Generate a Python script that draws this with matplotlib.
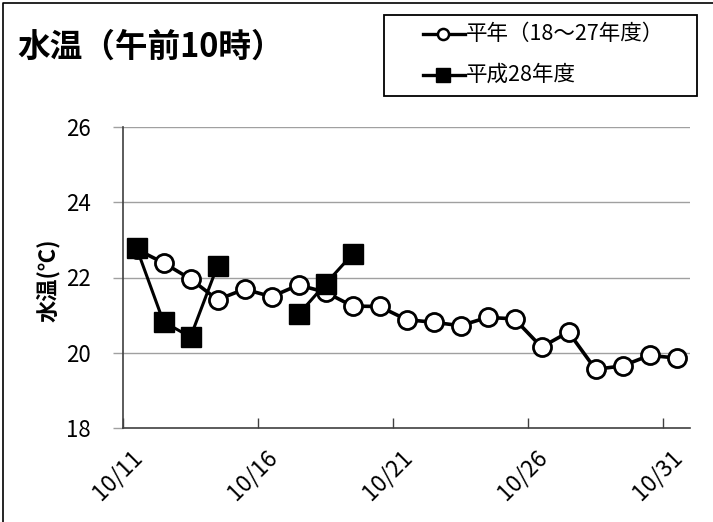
import matplotlib
matplotlib.use('Agg')
from matplotlib import pyplot as plt
from matplotlib.lines import Line2D
from matplotlib.patches import Rectangle
import matplotlib.transforms as mtransforms
import numpy as np

plt.rcParams['font.family'] = ['Noto Sans CJK JP', 'DejaVu Sans']

W, H = 713, 522

# days 10/11 .. 10/31
days = ['10/%d' % d for d in range(11, 32)]
tick_labels = ['10/11', '10/16', '10/21', '10/26', '10/31']

# 平年 (18~27年度)
normal = [22.75, 22.39, 21.96, 21.41, 21.69, 21.49, 21.80, 21.61, 21.24, 21.23,
          20.88, 20.81, 20.72, 20.94, 20.90, 20.15, 20.55, 19.56, 19.65, 19.93,
          19.86]
# 平成28年度 (nan = no observation)
h28 = [22.79, 20.82, 20.42, 22.31, np.nan, np.nan, 21.02, 21.83, 22.62]

legend_labels = ['平年（18～27年度）', '平成28年度']

def fx(px):
    return px / W

def fy(py):
    return 1 - py / H

def main():
    fig = plt.figure(figsize=(W / 100, H / 100), dpi=100)
    ax = fig.add_axes([fx(123), fy(428), fx(690) - fx(123), fy(127) - fy(428)])

    x = np.arange(len(days))
    ax.plot(x, normal, color='black', lw=2.6, marker='o', ms=13,
            mfc='white', mec='black', mew=2.0, zorder=3)
    x28 = np.arange(len(h28))
    ax.plot(x28, h28, color='black', lw=2.2, marker='s', ms=14,
            mfc='black', mec='black', zorder=4)

    ax.set_xlim(-0.5, len(days) - 0.5)
    ax.set_ylim(18, 26)
    ax.set_yticks([18, 20, 22, 24, 26])
    for y in [20, 22, 24, 26]:
        ax.axhline(y, color='#a0a0a0', lw=1.0, zorder=1)

    for s in ['top', 'right']:
        ax.spines[s].set_visible(False)
    for s in ['left', 'bottom']:
        ax.spines[s].set_color('#404040')
        ax.spines[s].set_linewidth(1.2)

    ax.tick_params(axis='y', direction='out', length=7, width=1.0,
                   color='#a0a0a0', labelsize=16, pad=16)
    ax.set_xticks([days.index(t) - 0.5 for t in tick_labels])
    ax.set_xticklabels(tick_labels, rotation=45, ha='right',
                       rotation_mode='anchor', fontsize=16.5)
    ax.tick_params(axis='x', direction='in', length=7, width=1.0,
                   color='#404040', pad=13)
    offset = mtransforms.ScaledTranslation(8 / 100, 0, fig.dpi_scale_trans)
    for lab in ax.get_xticklabels():
        lab.set_transform(lab.get_transform() + offset)

    fig.text(fx(48), fy(280), '水温(℃)', rotation=90, fontsize=16,
             fontweight='bold', ha='center', va='center')
    fig.text(fx(17), fy(47), '水温（午前10時）', fontsize=23.5,
             fontweight='bold', ha='left', va='center')

    # legend box drawn by hand to match the reference placement
    fig.patches.append(Rectangle((fx(384), fy(96)), fx(697) - fx(384),
                                 fy(15) - fy(96), transform=fig.transFigure,
                                 fill=False, edgecolor='black', lw=1.3))
    styles = [dict(marker='o', ms=8, mfc='white', mec='black', mew=1.8),
              dict(marker='s', ms=10, mfc='black', mec='black')]
    for label, st, py in zip(legend_labels, styles, [34, 75]):
        fig.add_artist(Line2D([fx(423), fx(465)], [fy(py), fy(py)],
                              color='black', lw=2.4, transform=fig.transFigure))
        fig.add_artist(Line2D([fx(443)], [fy(py)], color='black', lw=0,
                              transform=fig.transFigure, **st))
        fig.text(fx(466), fy(py), label, fontsize=15.5, ha='left', va='center')

    # outer border (left and top only, as in the reference)
    fig.add_artist(Line2D([fx(3), fx(3), 1], [0, fy(3), fy(3)],
                          color='black', lw=1.2, transform=fig.transFigure))

    fig.savefig('out.png', dpi=100)

if __name__ == '__main__':
    main()
